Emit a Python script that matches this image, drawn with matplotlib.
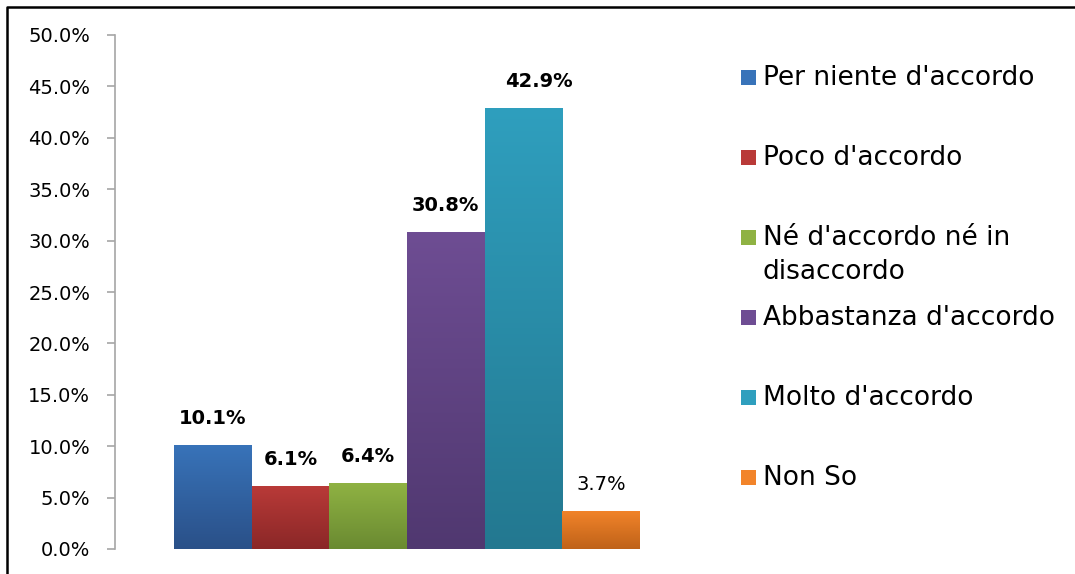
import numpy as np
import matplotlib.pyplot as plt
from matplotlib.colors import LinearSegmentedColormap
from matplotlib.lines import Line2D
from matplotlib.patches import Rectangle

categories = ["Per niente d'accordo", "Poco d'accordo", "Né d'accordo né in\ndisaccordo",
              "Abbastanza d'accordo", "Molto d'accordo", "Non So"]
values = [10.1, 6.1, 6.4, 30.8, 42.9, 3.7]
yticks = [0, 5, 10, 15, 20, 25, 30, 35, 40, 45, 50]

# light (top) / dark (bottom) shade of each bar
top_colors = ["#3873B9", "#B93A38", "#8FB243", "#6E4D93", "#2F9FBE", "#F2842A"]
bottom_colors = ["#2A5088", "#8A2727", "#6A8A31", "#503870", "#237890", "#BF6219"]
label_bold = [True, True, True, True, True, False]
label_dx = [0, 0, 0, 0, 11, 0]

W, H = 1075, 574
fig = plt.figure(figsize=(W / 100, H / 100), dpi=100)
ax = fig.add_axes([115 / W, 1 - 549 / H, 584 / W, (549 - 35) / H])

x = np.arange(len(values))
bars = ax.bar(x, values, width=1.0, color=top_colors, zorder=2)

grad = np.linspace(0, 1, 256).reshape(-1, 1)
for b, c0, c1 in zip(bars, bottom_colors, top_colors):
    cmap = LinearSegmentedColormap.from_list("g", [c0, c1])
    x0, w, h = b.get_x(), b.get_width(), b.get_height()
    im = ax.imshow(grad, cmap=cmap, origin="lower", aspect="auto",
                   extent=[x0, x0 + w, 0, h], zorder=3)
    im.set_clip_path(b)

for i, v in enumerate(values):
    ax.annotate(f"{v:.1f}%", xy=(x[i], v), xytext=(label_dx[i], 19),
                textcoords="offset points", ha="center", va="center",
                fontsize=14, fontweight="bold" if label_bold[i] else "normal",
                color="black", zorder=4)

ax.set_xlim(-1.26, 6.26)
ax.set_ylim(0, 50)
ax.set_yticks(yticks)
ax.set_yticklabels([f"{t:.1f}%" for t in yticks])
ax.set_xticks([])
for s in ["top", "right", "bottom"]:
    ax.spines[s].set_visible(False)
ax.spines["left"].set_color("#A6A6A6")
ax.spines["left"].set_linewidth(1.2)
ax.tick_params(axis="y", direction="out", length=5.8, width=1.2, color="#A6A6A6",
               pad=12, labelsize=14)

# legend drawn by hand on the right
for i, (lab, c0, c1) in enumerate(zip(categories, bottom_colors, top_colors)):
    yc = 77 + 80 * i
    sq = Rectangle((741 / W, 1 - (yc + 7.5) / H), 15 / W, 15 / H,
                   transform=fig.transFigure, facecolor=c1, edgecolor="none")
    fig.add_artist(sq)
    fig.text(763 / W, 1 - (yc - 12) / H, lab, ha="left", va="top",
             fontsize=19, linespacing=1.4)

# frame around the chart
fig.add_artist(Line2D([7 / W, 7 / W, 1], [0, 1 - 7 / H, 1 - 7 / H],
                      transform=fig.transFigure, color="black", linewidth=1.8))

fig.savefig("out.png", dpi=100)
